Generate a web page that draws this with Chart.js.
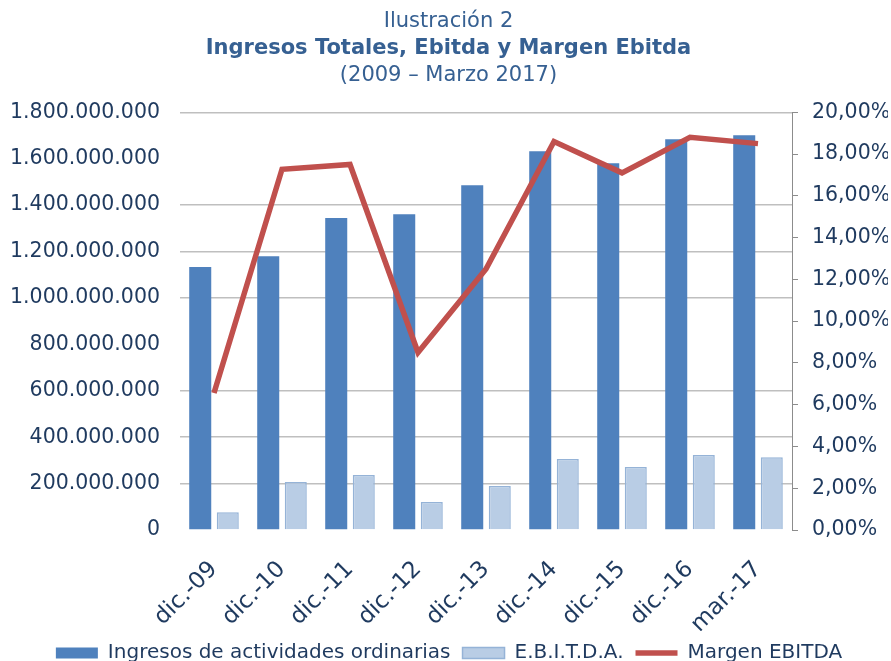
<!DOCTYPE html>
<html lang="es">
<head>
<meta charset="UTF-8">
<title>Ingresos Totales, Ebitda y Margen Ebitda</title>
<script src="https://cdn.jsdelivr.net/npm/chart.js"></script>
<style>
    body { margin: 0; background: #fff; font-family: "DejaVu Sans", sans-serif; }
    #wrap { position: relative; width: 891px; height: 661px; overflow: hidden; }
    #titulo { position: absolute; top: 7px; left: 3px; width: 891px; text-align: center; color: #366092; font-size: 21px; line-height: 27px; z-index: 2; }
    #titulo .neg { font-weight: bold; }
    #lienzo { position: absolute; top: 80px; left: 0; width: 891px; height: 593px; }
</style>
</head>
<body>
<div id="wrap">
    <div id="titulo">
        <div>Ilustración 2</div>
        <div class="neg">Ingresos Totales, Ebitda y Margen Ebitda</div>
        <div>(2009 – Marzo 2017)</div>
    </div>
    <div id="lienzo"><canvas id="grafico"></canvas></div>
</div>
<script>
    // valores
    const categorias = ['dic.-09', 'dic.-10', 'dic.-11', 'dic.-12', 'dic.-13', 'dic.-14', 'dic.-15', 'dic.-16', 'mar.-17'];
    const ingresos = [1133000000, 1180000000, 1344000000, 1361000000, 1486000000, 1632000000, 1580000000, 1684000000, 1701000000];
    const ebitda = [77000000, 207000000, 237000000, 121000000, 190000000, 306000000, 271000000, 323000000, 314000000];
    const margen = [6.56, 17.27, 17.5, 8.5, 12.5, 18.6, 17.1, 18.8, 18.5];

    const azulOscuro = '#1F3A5F';
    const gris = '#BFBFBF';
    const nada = 'rgba(255,255,255,0)';

    function miles(v) {
        return String(v).replace(/\B(?=(\d{3})+(?!\d))/g, '.');
    }

    new Chart(document.getElementById('grafico'), {
        type: 'bar',
        data: {
            labels: categorias,
            datasets: [
                {
                    label: 'Margen EBITDA',
                    type: 'line',
                    data: margen,
                    yAxisID: 'y1',
                    borderColor: '#C0504D',
                    backgroundColor: '#C0504D',
                    borderWidth: 5.5,
                    pointRadius: 0,
                    pointStyle: 'line',
                    tension: 0,
                    order: 0
                },
                {
                    label: 'Ingresos de actividades ordinarias',
                    data: ingresos,
                    yAxisID: 'y',
                    backgroundColor: '#4F81BD',
                    borderWidth: 0,
                    pointStyle: 'rect',
                    order: 1
                },
                {
                    label: 'E.B.I.T.D.A.',
                    data: ebitda,
                    yAxisID: 'y',
                    backgroundColor: '#B9CDE5',
                    borderColor: '#95B3D7',
                    borderWidth: 1.5,
                    pointStyle: 'rect',
                    order: 1
                }
            ]
        },
        options: {
            responsive: true,
            maintainAspectRatio: false,
            animation: false,
            categoryPercentage: 0.81,
            barPercentage: 0.8,
            layout: { padding: { left: 10, right: 3, top: 3, bottom: 0 } },
            plugins: {
                legend: {
                    position: 'bottom',
                    labels: {
                        usePointStyle: true,
                        pointStyleWidth: 42,
                        boxHeight: 11,
                        padding: 12,
                        color: azulOscuro,
                        font: { family: 'DejaVu Sans', size: 20 },
                        sort: (a, b) => [1, 2, 0].indexOf(a.datasetIndex) - [1, 2, 0].indexOf(b.datasetIndex)
                    }
                },
                tooltip: { enabled: false }
            },
            scales: {
                x: {
                    afterFit: s => { s.height = 101; },
                    grid: { display: false },
                    border: { display: false },
                    ticks: {
                        color: azulOscuro,
                        font: { family: 'DejaVu Sans', size: 23 },
                        minRotation: 45,
                        maxRotation: 45,
                        padding: 18
                    }
                },
                y: {
                    position: 'left',
                    min: 0,
                    max: 1800000000,
                    afterFit: s => { s.width = 170; },
                    border: { display: false },
                    grid: {
                        drawTicks: false,
                        lineWidth: 1.5,
                        // en el original faltan las lineas de 0, 800 M y 1.600 M
                        color: [nada, gris, gris, gris, nada, gris, gris, gris, nada, gris]
                    },
                    ticks: {
                        stepSize: 200000000,
                        color: azulOscuro,
                        font: { family: 'DejaVu Sans', size: 20.5 },
                        padding: 20,
                        callback: v => miles(v)
                    }
                },
                y1: {
                    position: 'right',
                    min: 0,
                    max: 20,
                    afterFit: s => { s.width = 96; },
                    border: { display: true, color: '#8C8C8C', width: 1 },
                    grid: { drawOnChartArea: false, drawTicks: true, tickLength: 6, color: '#8C8C8C' },
                    ticks: {
                        stepSize: 2,
                        color: azulOscuro,
                        font: { family: 'DejaVu Sans', size: 20.5 },
                        padding: 14,
                        callback: v => v.toFixed(2).replace('.', ',') + '%'
                    }
                }
            }
        }
    });
</script>
</body>
</html>
